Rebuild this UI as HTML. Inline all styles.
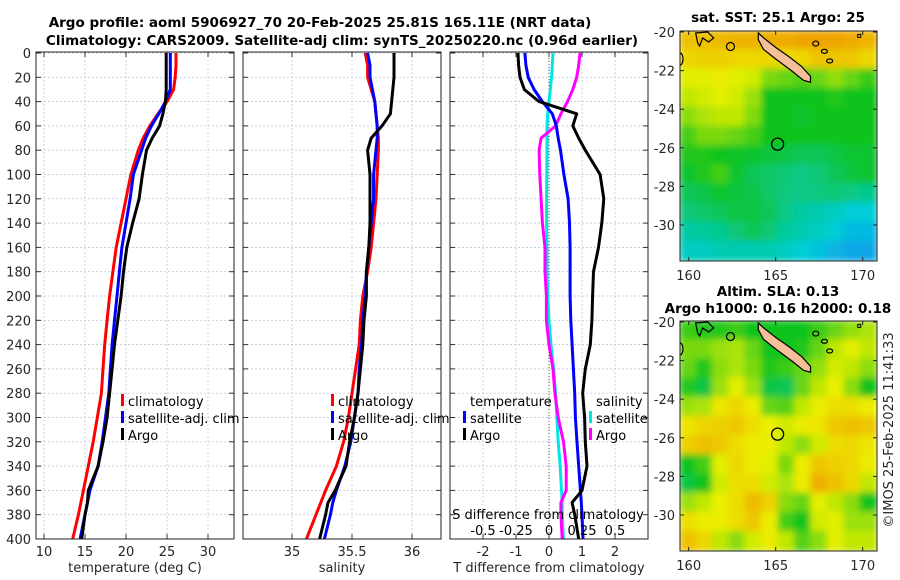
<!DOCTYPE html>
<html><head><meta charset="utf-8"><style>
html,body{margin:0;padding:0;background:#fff;}
svg{display:block;font-family:"DejaVu Sans","Liberation Sans",sans-serif;}
.tk{font-size:13px;fill:#262626;}
.tt{font-size:13.5px;font-weight:bold;fill:#000;}
.lg{font-size:13px;fill:#000;}
</style></head><body>
<svg id="fig" width="900" height="580" viewBox="0 0 900 580">
<defs>
<filter id="blur" x="-5%" y="-5%" width="110%" height="110%"><feGaussianBlur stdDeviation="3.5"/></filter>
<clipPath id="clipTop"><rect x="680" y="31" width="197" height="230"/></clipPath>
<clipPath id="clipBot"><rect x="680" y="321" width="197" height="230"/></clipPath>
<clipPath id="clipP1"><rect x="36" y="52" width="198" height="487"/></clipPath>
<clipPath id="clipP2"><rect x="243" y="52" width="198" height="487"/></clipPath>
<clipPath id="clipP3"><rect x="450" y="52" width="198" height="487"/></clipPath>
</defs>
<text class="tt" x="320" y="27" text-anchor="middle">Argo profile: aoml 5906927_70 20-Feb-2025 25.81S 165.11E (NRT data)</text>
<text class="tt" x="342" y="45" text-anchor="middle">Climatology: CARS2009. Satellite-adj clim: synTS_20250220.nc (0.96d earlier)</text>
<text class="tt" x="778" y="22" text-anchor="middle">sat. SST: 25.1 Argo: 25</text>
<text class="tt" x="778" y="296" text-anchor="middle">Altim. SLA: 0.13</text>
<text class="tt" x="778" y="313" text-anchor="middle">Argo h1000: 0.16 h2000: 0.18</text>
<text class="tk" transform="translate(893,430) rotate(-90)" text-anchor="middle">©IMOS 25-Feb-2025 11:41:33</text>
<g id="g"></g>
</svg>
<script>
// ---- profile data (depth in m) ----
var depths = [0,10,20,30,40,50,60,70,80,100,120,140,160,180,200,220,240,260,280,300,320,340,360,370,380,400];
var tempClim = [26.1,26.1,26.0,25.8,25.0,23.9,22.9,22.1,21.5,20.6,20.0,19.4,18.8,18.4,18.0,17.7,17.4,17.2,17.0,16.5,16.0,15.4,14.8,14.5,14.2,13.5];
var tempSat = [25.4,25.4,25.4,25.4,24.8,24.0,23.1,22.4,21.9,20.9,20.5,20.0,19.5,19.2,18.9,18.6,18.3,18.1,17.9,17.5,17.1,16.6,15.6,15.3,15.0,14.4];
var tempArgo = [24.9,24.9,24.9,24.9,24.8,24.5,24.1,23.2,22.5,22.0,21.6,20.8,20.1,19.7,19.4,19.0,18.6,18.3,18.0,17.7,17.2,16.6,15.4,15.3,15.0,14.6];
var salClim = [35.61,35.63,35.63,35.66,35.69,35.70,35.71,35.72,35.72,35.71,35.70,35.68,35.66,35.63,35.59,35.57,35.56,35.53,35.50,35.47,35.43,35.37,35.28,35.24,35.20,35.12];
var salSat = [35.63,35.65,35.65,35.67,35.69,35.70,35.71,35.71,35.70,35.68,35.68,35.66,35.64,35.62,35.61,35.59,35.58,35.56,35.55,35.52,35.49,35.44,35.37,35.34,35.32,35.27];
var salArgo = [35.85,35.85,35.85,35.84,35.83,35.82,35.75,35.66,35.63,35.65,35.65,35.65,35.64,35.62,35.62,35.60,35.59,35.57,35.55,35.52,35.48,35.45,35.36,35.30,35.28,35.23];
var dTSat = [-0.73,-0.7,-0.63,-0.45,-0.2,0.1,0.22,0.28,0.35,0.45,0.58,0.62,0.64,0.64,0.64,0.66,0.7,0.74,0.78,0.8,0.85,0.9,0.95,0.98,1.0,1.03];
var dTArgo = [-0.94,-0.92,-0.88,-0.75,-0.3,0.84,0.72,0.9,1.1,1.55,1.66,1.6,1.5,1.35,1.32,1.3,1.25,1.1,1.02,1.08,1.1,1.15,1.0,0.7,0.78,0.9];
var dSSat = [0.03,0.025,0.02,0.01,0.0,-0.01,-0.015,-0.015,-0.015,-0.017,-0.018,-0.018,-0.017,-0.015,-0.01,0.0,0.015,0.035,0.05,0.06,0.07,0.085,0.095,0.1,0.1,0.11];
var dSArgo = [0.235,0.225,0.21,0.18,0.14,0.09,0.05,-0.06,-0.075,-0.07,-0.06,-0.05,-0.03,-0.03,-0.02,-0.02,0.0,0.03,0.045,0.07,0.11,0.13,0.13,0.09,0.09,0.1];
var depthTicks = [0,20,40,60,80,100,120,140,160,180,200,220,240,260,280,300,320,340,360,380,400];
var tempTicks = [10,15,20,25,30];
var salTicks = [35,35.5,36];
var salTickLabels = ["35","35.5","36"];
var dTTicks = [-2,-1,0,1,2];
var dSTicks = [-0.5,-0.25,0,0.25,0.5];
var dSTickLabels = ["-0.5","-0.25","0","0.25","0.5"];
// ---- map data (rows north->south, cols west->east) ----
var sstGrid = [
[0.88,0.88,0.9,0.92,0.92,0.94,0.94,0.96,0.96,0.96,0.94,0.92],
[0.82,0.84,0.84,0.82,0.82,0.82,0.8,0.82,0.87,0.87,0.86,0.82],
[0.74,0.74,0.76,0.74,0.72,0.62,0.6,0.58,0.6,0.65,0.6,0.55],
[0.7,0.72,0.74,0.72,0.66,0.5,0.5,0.5,0.5,0.52,0.5,0.5],
[0.64,0.68,0.7,0.7,0.63,0.5,0.5,0.48,0.5,0.5,0.5,0.5],
[0.56,0.62,0.62,0.6,0.56,0.5,0.5,0.5,0.5,0.5,0.5,0.5],
[0.52,0.52,0.5,0.49,0.48,0.46,0.45,0.42,0.42,0.45,0.47,0.48],
[0.48,0.52,0.56,0.48,0.42,0.4,0.38,0.36,0.38,0.42,0.46,0.48],
[0.42,0.44,0.48,0.46,0.44,0.4,0.37,0.36,0.37,0.38,0.36,0.35],
[0.38,0.4,0.42,0.45,0.45,0.42,0.36,0.32,0.3,0.28,0.25,0.25],
[0.32,0.33,0.35,0.38,0.42,0.38,0.33,0.3,0.28,0.25,0.2,0.2],
[0.28,0.28,0.3,0.3,0.3,0.3,0.28,0.25,0.22,0.18,0.15,0.15]];
var slaGrid = [
[0.55,0.52,0.52,0.55,0.5,0.5,0.5,0.5,0.55,0.6,0.65,0.68],
[0.62,0.62,0.66,0.68,0.6,0.5,0.5,0.52,0.6,0.7,0.74,0.7],
[0.6,0.52,0.64,0.68,0.62,0.52,0.55,0.6,0.65,0.72,0.7,0.64],
[0.52,0.45,0.66,0.74,0.66,0.45,0.42,0.6,0.7,0.75,0.64,0.5],
[0.66,0.68,0.78,0.82,0.76,0.6,0.58,0.7,0.76,0.8,0.8,0.76],
[0.78,0.82,0.84,0.86,0.8,0.75,0.72,0.76,0.78,0.86,0.88,0.86],
[0.84,0.88,0.86,0.8,0.76,0.76,0.7,0.64,0.72,0.8,0.82,0.78],
[0.5,0.56,0.74,0.82,0.76,0.74,0.62,0.76,0.86,0.84,0.82,0.76],
[0.45,0.5,0.72,0.8,0.8,0.72,0.68,0.76,0.93,0.88,0.82,0.7],
[0.66,0.7,0.75,0.8,0.9,0.84,0.64,0.6,0.74,0.7,0.64,0.5],
[0.8,0.76,0.76,0.8,0.86,0.76,0.56,0.5,0.72,0.74,0.66,0.66],
[0.88,0.82,0.7,0.64,0.72,0.76,0.7,0.58,0.64,0.74,0.7,0.7]];
var latTicks = [-20,-22,-24,-26,-28,-30];
var lonTicks = [160,165,170];
var argoLon = 165.11, argoLat = -25.81;
var islandLon = [164.0,164.3,165.0,165.8,166.5,167.0,167.0,166.6,165.9,165.0,164.3,164.0];
var islandLat = [-20.05,-20.3,-20.8,-21.3,-21.8,-22.3,-22.6,-22.5,-22.0,-21.4,-20.9,-20.4];

var NS = "http://www.w3.org/2000/svg";
var G = document.getElementById('g');
function mk(tag, attrs, parent){ var e=document.createElementNS(NS,tag); for(var k in attrs) e.setAttribute(k,attrs[k]); (parent||G).appendChild(e); return e; }
function yD(d){ return 53 + d*1.215; }
function xT(t){ return 44 + (t-10)*8.2; }
function xS(s){ return 352 + (s-35.5)*120; }
function xDT(v){ return 549 + v*33; }
function xDS(v){ return 549 + v*132; }

function panel(x0, name, xTicks, xFn, labels, xlabel){
  var pg = mk('g',{});
  
  
  mk('rect',{x:x0,y:52,width:198,height:487,fill:'#fff'},pg);
  depthTicks.forEach(function(d){ var l=mk('line',{x1:x0,x2:x0+198,y1:yD(d),y2:yD(d),stroke:'#b8c0dc','stroke-width':0.7,'stroke-dasharray':'2,2'},pg);
     
    mk('line',{x1:x0,x2:x0+5,y1:yD(d),y2:yD(d),stroke:'#333'},pg); mk('line',{x1:x0+198,x2:x0+193,y1:yD(d),y2:yD(d),stroke:'#333'},pg); });
  xTicks.forEach(function(t,i){ var x=xFn(t);
    var l=mk('line',{x1:x,x2:x,y1:52,y2:539,stroke:'#b8c0dc','stroke-width':0.7,'stroke-dasharray':'2,2'},pg);
     
    mk('line',{x1:x,x2:x,y1:539,y2:534,stroke:'#333'},pg); mk('line',{x1:x,x2:x,y1:52,y2:57,stroke:'#333'},pg);
    var tx=mk('text',{x:x,y:556,'text-anchor':'middle','class':'tk'},pg); tx.textContent=labels[i];
      });
  var xl=mk('text',{x:x0+99,y:572,'text-anchor':'middle','class':'tk'},pg); xl.textContent=xlabel;
   
  return pg;
}
function curve(pg, vals, xFn, color, clip, name){
  var p = depths.map(function(d,i){ return xFn(vals[i]).toFixed(1)+','+yD(d).toFixed(1); }).join(' ');
  var e = mk('polyline',{points:p,fill:'none',stroke:color,'stroke-width':3,'stroke-linejoin':'round','clip-path':'url(#'+clip+')'},pg);
  
  
}
function border(x0){ mk('rect',{x:x0,y:52,width:198,height:487,fill:'none',stroke:'#222','stroke-width':1}); }
function legend(x, y, color, label){
  mk('rect',{x:x,y:y-12,width:3,height:12,fill:color});
  var t=mk('text',{x:x+7,y:y,'class':'lg'}); t.textContent=label;
   
}

// panel 1
var p1 = panel(36,'temperature-panel',tempTicks,xT,tempTicks.map(String),'temperature (deg C)');
curve(p1,tempClim,xT,'#ff0000','clipP1','temp-climatology-line');
curve(p1,tempSat,xT,'#0000ff','clipP1','temp-satellite-line');
curve(p1,tempArgo,xT,'#000000','clipP1','temp-argo-line');
border(36);
depthTicks.forEach(function(d){ var t=mk('text',{x:31,y:yD(d)+5,'text-anchor':'end','class':'tk'}); t.textContent=d;
    });
legend(121,406,'#ff0000','climatology'); legend(121,423,'#0000ff','satellite-adj. clim'); legend(121,440,'#000000','Argo');

// panel 2
var p2 = panel(243,'salinity-panel',salTicks,xS,salTickLabels,'salinity');
curve(p2,salClim,xS,'#ff0000','clipP2','sal-climatology-line');
curve(p2,salSat,xS,'#0000ff','clipP2','sal-satellite-line');
curve(p2,salArgo,xS,'#000000','clipP2','sal-argo-line');
border(243);
legend(331,406,'#ff0000','climatology'); legend(331,423,'#0000ff','satellite-adj. clim'); legend(331,440,'#000000','Argo');

// panel 3
var p3 = panel(450,'difference-panel',dTTicks,xDT,dTTicks.map(String),'T difference from climatology');
mk('line',{x1:549,x2:549,y1:52,y2:539,stroke:'#6b5a3a','stroke-width':1,'stroke-dasharray':'1,2'},p3);
curve(p3,dSSat,xDS,'#00e5e5','clipP3','sal-diff-satellite-line');
curve(p3,dSArgo,xDS,'#ff00ff','clipP3','sal-diff-argo-line');
curve(p3,dTSat,xDT,'#0000ff','clipP3','temp-diff-satellite-line');
curve(p3,dTArgo,xDT,'#000000','clipP3','temp-diff-argo-line');
border(450);
var t1=mk('text',{x:470,y:406,'class':'lg'}); t1.textContent='temperature';
var t2=mk('text',{x:596,y:406,'class':'lg'}); t2.textContent='salinity';
legend(463,423,'#0000ff','satellite'); legend(463,440,'#000000','Argo');
legend(589,423,'#00e5e5','satellite'); legend(589,440,'#ff00ff','Argo');
var sd=mk('text',{x:548,y:519,'text-anchor':'middle','class':'lg'}); sd.textContent='S difference from climatology';
 
dSTicks.forEach(function(v,i){ var t=mk('text',{x:xDS(v),y:535,'text-anchor':'middle','class':'lg'}); t.textContent=dSTickLabels[i];
    });

// maps
function color(v){
  var stops=[[0.0,[30,110,255]],[0.25,[0,205,215]],[0.5,[15,195,30]],[0.75,[235,240,0]],[1.0,[240,150,0]]];
  v=Math.max(0,Math.min(1,v));
  for(var i=0;i<stops.length-1;i++){ if(v<=stops[i+1][0]){ var f=(v-stops[i][0])/(stops[i+1][0]-stops[i][0]);
    var a=stops[i][1], b=stops[i+1][1];
    return 'rgb('+Math.round(a[0]+(b[0]-a[0])*f)+','+Math.round(a[1]+(b[1]-a[1])*f)+','+Math.round(a[2]+(b[2]-a[2])*f)+')'; } }
  return 'rgb(240,150,0)';
}
function mapPanel(y0, grid, clip, name){
  var mg = mk('g',{});
  
  
  function lx(lon){ return 680 + (lon-159.5)*17.4; }
  function ly(lat){ return y0 + 1 + (-20-lat)*19.3; }
  var cg = mk('g',{'clip-path':'url(#'+clip+')'},mg);
  var bg = mk('g',{filter:'url(#blur)'},cg);
  var rows=grid.length, cols=grid[0].length, cw=197/cols, ch=230/rows;
  grid.forEach(function(row,r){ row.forEach(function(v,c){
    var cell = mk('rect',{x:680+c*cw-1,y:y0+r*ch-1,width:cw+2,height:ch+2,fill:color(v)},bg);
    
    
  }); });
  // coastlines
  var pts = islandLon.map(function(lo,i){ return lx(lo).toFixed(1)+','+ly(islandLat[i]).toFixed(1); }).join(' ');
  var isl = mk('polygon',{points:pts,fill:'#f5c097',stroke:'#000','stroke-width':1.2},cg);
   
  mk('path',{d:'M'+lx(160.4)+','+ly(-20.05)+' l12,-1 l6,6 l-5,4 l-6,-4 l-3,8 l-2,-3 z',fill:'none',stroke:'#000','stroke-width':1.2},cg);
  mk('ellipse',{cx:lx(162.4),cy:ly(-20.75),rx:4,ry:4,fill:'none',stroke:'#000','stroke-width':1.2},cg);
  mk('ellipse',{cx:680,cy:ly(-21.4),rx:3,ry:6,fill:'none',stroke:'#000','stroke-width':1.2},cg);
  mk('ellipse',{cx:lx(167.3),cy:ly(-20.6),rx:3,ry:2.5,fill:'none',stroke:'#000','stroke-width':1.2},cg);
  mk('ellipse',{cx:lx(167.8),cy:ly(-21.0),rx:3,ry:2,fill:'none',stroke:'#000','stroke-width':1.2},cg);
  mk('ellipse',{cx:lx(168.1),cy:ly(-21.5),rx:3,ry:2,fill:'none',stroke:'#000','stroke-width':1.2},cg);
  mk('rect',{x:lx(169.8)-1.5,y:ly(-20.2)-1.5,width:3,height:3,fill:'none',stroke:'#000','stroke-width':1},cg);
  var c = mk('circle',{cx:lx(argoLon),cy:ly(argoLat),r:6,fill:'none',stroke:'#000','stroke-width':1.3},mg);
   
  mk('rect',{x:680,y:y0,width:197,height:230,fill:'none',stroke:'#222','stroke-width':1},mg);
  latTicks.forEach(function(lat){ var y=ly(lat);
    mk('line',{x1:680,x2:684,y1:y,y2:y,stroke:'#222'},mg); mk('line',{x1:877,x2:873,y1:y,y2:y,stroke:'#222'},mg);
    var t=mk('text',{x:675,y:y+5,'text-anchor':'end','class':'tk'},mg); t.textContent=lat;
      });
  lonTicks.forEach(function(lon){ var x=lx(lon);
    mk('line',{x1:x,x2:x,y1:y0+230,y2:y0+226,stroke:'#222'},mg); mk('line',{x1:x,x2:x,y1:y0,y2:y0+4,stroke:'#222'},mg);
    var t=mk('text',{x:x,y:y0+249,'text-anchor':'middle','class':'tk'},mg); t.textContent=lon;
      });
}
mapPanel(31, sstGrid, 'clipTop', 'sst-map');
mapPanel(321, slaGrid, 'clipBot', 'sla-map');
</script>
</body></html>
